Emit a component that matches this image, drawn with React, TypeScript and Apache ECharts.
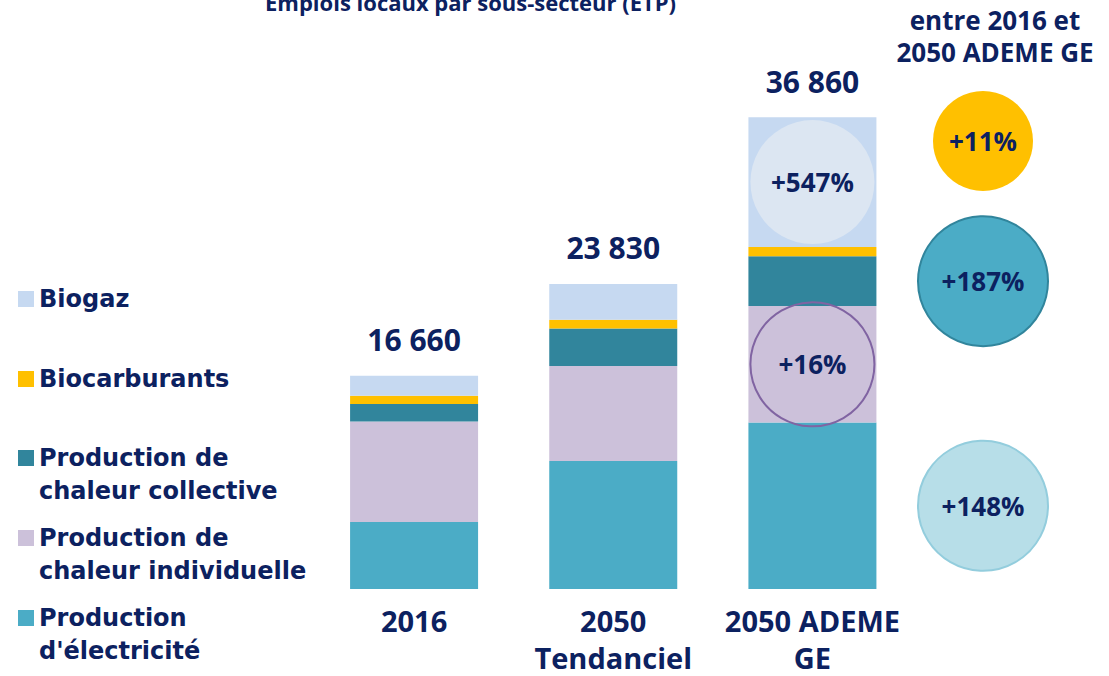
import { useEffect, useRef } from 'react';
import * as echarts from 'echarts';

// ---- Data ----
const categories = ['2016', '2050\nTendanciel', '2050 ADEME\nGE'];
const seriesNames = [
  "Production d'électricité",
  'Production de chaleur individuelle',
  'Production de chaleur collective',
  'Biocarburants',
  'Biogaz',
];
const legendLabels = [
  "Production\nd'électricité",
  'Production de\nchaleur individuelle',
  'Production de\nchaleur collective',
  'Biocarburants',
  'Biogaz',
];
const electricite = [5240, 10000, 13000];
const chaleurIndividuelle = [7850, 7430, 9100];
const chaleurCollective = [1360, 2920, 3900];
const biocarburants = [650, 680, 720];
const biogaz = [1560, 2800, 10140];
// evolution between 2016 and 2050 ADEME GE, per series (same order as seriesNames)
const evolution = ['+148%', '+16%', '+187%', '+11%', '+547%'];
const titleText = 'Emplois locaux par sous-secteur (ETP)';
const sideTitle = 'entre 2016 et\n2050 ADEME GE';

const values = [electricite, chaleurIndividuelle, chaleurCollective, biocarburants, biogaz];

const NAVY = '#0C2160';
const COLORS = ['#4BACC6', '#CCC1DA', '#31859C', '#FFC000', '#C6D9F1'];
const OPEN = "'Open Sans', sans-serif";
const DEJA = "'DejaVu Sans', sans-serif";

const fmt = (n: number) => String(n).replace(/\B(?=(\d{3})+(?!\d))/g, ' ');

export default function App() {
  const ref = useRef<HTMLDivElement>(null);

  useEffect(() => {
    const chart = echarts.init(ref.current!, null, { renderer: 'svg' });
    const totals = categories.map((_, i) => values.reduce((s, arr) => s + arr[i], 0));

    // legend: one component per item so that each sits where the reference puts it
    const legendIconTops = [610, 530, 450, 371, 291];
    const legends = seriesNames.map((name, i) => {
      const multi = legendLabels[i].includes('\n');
      return {
        data: [name],
        orient: 'vertical',
        left: 18,
        top: legendIconTops[i] - (multi ? 41.5 : 8.5),
        padding: 0,
        icon: 'rect',
        itemWidth: 16,
        itemHeight: 16,
        selectedMode: false,
        // a blank first line keeps the icon level with the label's first line
        formatter: () => (multi ? ' \n' + legendLabels[i] : legendLabels[i]),
        textStyle: {
          color: NAVY,
          fontFamily: DEJA,
          fontWeight: 'bold',
          fontSize: 24,
          lineHeight: 33,
        },
      };
    });

    const option: any = {
      animation: false,
      backgroundColor: '#ffffff',
      title: [
        {
          text: titleText,
          left: 265,
          top: -13,
          padding: 0,
          textStyle: { color: NAVY, fontFamily: OPEN, fontWeight: 'bold', fontSize: 22, lineHeight: 30 },
        },
        {
          text: sideTitle,
          left: 995,
          top: 4,
          padding: 0,
          textAlign: 'center',
          textStyle: { color: NAVY, fontFamily: OPEN, fontWeight: 'bold', fontSize: 26, lineHeight: 32 },
        },
      ],
      legend: legends,
      grid: { left: 314.5, right: 197, top: 77, bottom: 82 },
      xAxis: {
        type: 'category',
        data: categories,
        axisLine: { show: false },
        axisTick: { show: false },
        axisLabel: {
          interval: 0,
          margin: 13,
          color: NAVY,
          fontFamily: OPEN,
          fontWeight: 'bold',
          fontSize: 29,
          lineHeight: 37,
        },
      },
      yAxis: { type: 'value', min: 0, max: 40000, show: false },
      series: seriesNames.map((name, i) => ({
        name,
        type: 'bar',
        stack: 'total',
        barWidth: 128,
        data: values[i],
        itemStyle: { color: COLORS[i] },
        label:
          i === seriesNames.length - 1
            ? {
                show: true,
                position: 'top',
                distance: 18,
                formatter: (p: any) => fmt(totals[p.dataIndex]),
                color: NAVY,
                fontFamily: OPEN,
                fontWeight: 'bold',
                fontSize: 30,
                lineHeight: 36,
              }
            : { show: false },
      })),
    };
    chart.setOption(option);

    // evolution circles, placed from the scales
    const last = categories.length - 1;
    const segCenter = (si: number) => {
      let base = 0;
      for (let k = 0; k < si; k++) base += values[k][last];
      return chart.convertToPixel({ gridIndex: 0 }, [last, base + values[si][last] / 2]) as number[];
    };
    const SIDE_X = 983;
    const styles: Record<number, any> = {
      4: { onBar: true, r: 62, fill: '#DCE6F2', stroke: null },
      1: { onBar: true, r: 62, fill: 'none', stroke: '#8064A2' },
      3: { onBar: false, r: 50, fill: '#FFC000', stroke: null, y: 141 },
      2: { onBar: false, r: 65, fill: '#4BACC6', stroke: '#31859C' },
      0: { onBar: false, r: 65, fill: '#B7DEE8', stroke: '#93CDDD' },
    };
    const elements: any[] = [];
    evolution.forEach((lab, si) => {
      const st = styles[si];
      const c = segCenter(si);
      const cx = st.onBar ? c[0] : SIDE_X;
      const cy = st.y !== undefined ? st.y : c[1];
      elements.push({
        type: 'circle',
        shape: { cx, cy, r: st.r },
        style: {
          fill: st.fill,
          stroke: st.stroke || 'none',
          lineWidth: st.stroke ? 2 : 0,
        },
        z: 10,
      });
      elements.push({
        type: 'text',
        x: cx,
        y: cy,
        style: {
          text: lab,
          fill: NAVY,
          fontFamily: OPEN,
          fontWeight: 'bold',
          fontSize: 26,
          align: 'center',
          verticalAlign: 'middle',
          textAlign: 'center',
          textVerticalAlign: 'middle',
        },
        z: 11,
      });
    });
    chart.setOption({ graphic: elements });

    return () => chart.dispose();
  }, []);

  return (
    <div
      ref={ref}
      style={{ position: 'fixed', left: 0, top: 0, width: 1109, height: 676 }}
    />
  );
}
